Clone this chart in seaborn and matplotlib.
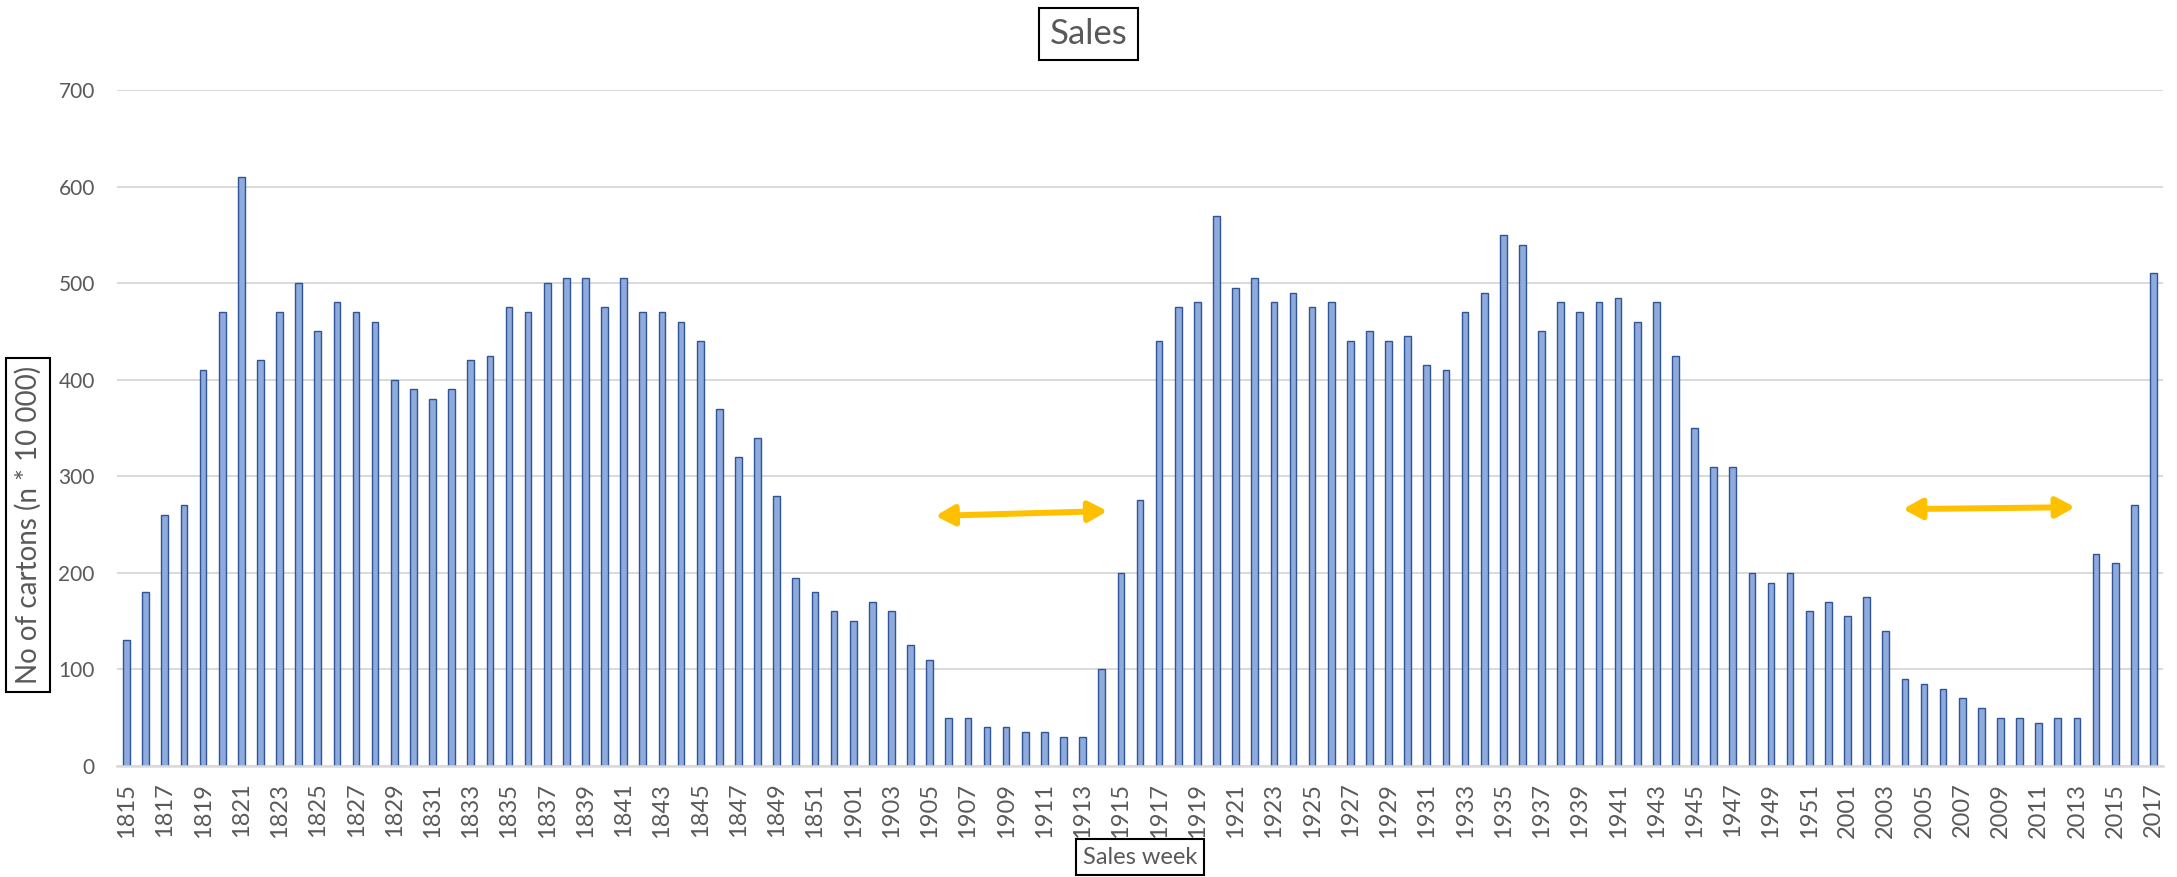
import matplotlib
matplotlib.use('Agg')
import matplotlib.pyplot as plt
import seaborn as sns

weeks = ([str(w) for w in range(1815, 1853)]
         + [str(w) for w in range(1901, 1953)]
         + [str(w) for w in range(2001, 2018)])

cartons = [
    # 1815 - 1852
    130, 180, 260, 270, 410, 470, 610, 420, 470, 500,
    450, 480, 470, 460, 400, 390, 380, 390, 420, 425,
    475, 470, 500, 505, 505, 475, 505, 470, 470, 460,
    440, 370, 320, 340, 280, 195, 180, 160,
    # 1901 - 1952
    150, 170, 160, 125, 110, 50, 50, 40, 40, 35,
    35, 30, 30, 100, 200, 275, 440, 475, 480, 570,
    495, 505, 480, 490, 475, 480, 440, 450, 440, 445,
    415, 410, 470, 490, 550, 540, 450, 480, 470, 480,
    485, 460, 480, 425, 350, 310, 310, 200, 190, 200,
    160, 170,
    # 2001 - 2017
    155, 175, 140, 90, 85, 80, 70, 60, 50, 50,
    45, 50, 50, 220, 210, 270, 510,
]

# double-headed arrows: (x_start, y_start, x_end, y_end) in category index / value units
arrows = [(42.3, 259, 51.3, 264), (92.9, 266, 101.9, 268)]

title = 'Sales'
xlabel = 'Sales week'
ylabel = 'No of cartons (n * 10 000)'

sns.set_theme(style='white')
plt.rcParams['font.family'] = ['Lato', 'DejaVu Sans']

text_color = '#595959'
grid_color = '#D9D9D9'
box = dict(boxstyle='square,pad=0.3', fc='white', ec='black', lw=1.5)

fig = plt.figure(figsize=(21.77, 8.77), dpi=100)
ax = fig.add_axes([117 / 2177, 1 - 766 / 877, (2163 - 117) / 2177, (766 - 90) / 877])

sns.barplot(x=weeks, y=cartons, ax=ax, color='#8FAADC', saturation=1,
            width=0.35, edgecolor='#2F5597', linewidth=1.0)

for x0, y0, x1, y1 in arrows:
    ax.annotate('', xy=(x1, y1), xytext=(x0, y0),
                arrowprops=dict(arrowstyle='<|-|>,head_length=0.55,head_width=0.3',
                                color='#FFC000', lw=4.3, mutation_scale=20,
                                shrinkA=0, shrinkB=0))

ax.set_xlim(-0.5, len(weeks) - 0.5)
ax.set_ylim(0, 700)
ax.set_yticks(range(0, 701, 100))
ax.set_xticks(range(0, len(weeks), 2))
ax.set_xticklabels(weeks[::2], rotation=90)
ax.tick_params(axis='x', length=0, pad=12, labelsize=17, labelcolor=text_color)
ax.tick_params(axis='y', length=0, pad=16, labelsize=15, labelcolor=text_color)
ax.set_xlabel('')
ax.set_ylabel('')

ax.grid(axis='y', color=grid_color, lw=1.4)
ax.set_axisbelow(True)
for side in ['top', 'right', 'left']:
    ax.spines[side].set_visible(False)
ax.spines['bottom'].set_color(grid_color)
ax.spines['bottom'].set_linewidth(1.8)

fig.text(0.5, 1 - 34 / 877, title, ha='center', va='center',
         fontsize=25, color=text_color, bbox=box)
fig.text(1140 / 2177, 1 - 857 / 877, xlabel, ha='center', va='center',
         fontsize=17, color=text_color, bbox=box)
fig.text(28 / 2177, 1 - 525 / 877, ylabel, ha='center', va='center', rotation=90,
         fontsize=20, color=text_color, bbox=box)

fig.savefig('out.png', dpi=100)
plt.close(fig)
